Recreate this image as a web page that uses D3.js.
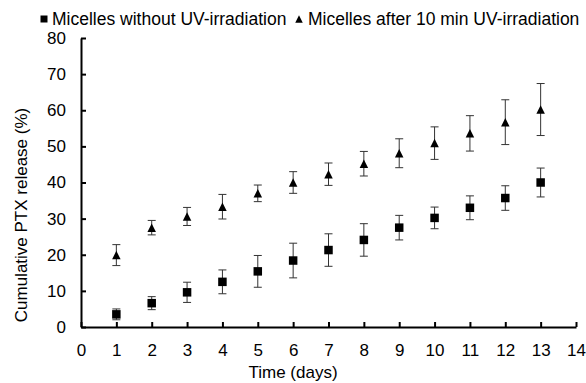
<!DOCTYPE html>
<html>
<head>
<meta charset="utf-8">
<script src="https://cdn.jsdelivr.net/npm/d3@7"></script>
<style>
  html, body { margin: 0; padding: 0; background: #fff; }
  svg { display: block; font-family: "Liberation Sans", Arial, sans-serif; }
</style>
</head>
<body>
<div class="container"></div>
<script>
// days on the x axis
var days = [1, 2, 3, 4, 5, 6, 7, 8, 9, 10, 11, 12, 13];

// micelles without UV-irradiation (squares)
var noUvMean = [3.5, 6.6, 9.6, 12.5, 15.4, 18.4, 21.3, 24.1, 27.5, 30.2, 33.0, 35.7, 40.0];
var noUvErr = [1.5, 1.8, 2.8, 3.3, 4.4, 4.8, 4.5, 4.5, 3.4, 3.0, 3.3, 3.4, 4.0];

// micelles after 10 min UV-irradiation (triangles)
var uvMean = [19.9, 27.5, 30.6, 33.3, 37.0, 40.0, 42.3, 45.2, 48.1, 50.9, 53.6, 56.7, 60.2];
var uvErr = [2.9, 2.0, 2.5, 3.4, 2.3, 3.0, 3.1, 3.4, 4.0, 4.5, 4.9, 6.2, 7.2];

var xTicks = [0, 1, 2, 3, 4, 5, 6, 7, 8, 9, 10, 11, 12, 13, 14];
var yTicks = [0, 10, 20, 30, 40, 50, 60, 70, 80];

var legendLabels = ['Micelles without UV-irradiation', 'Micelles after 10 min UV-irradiation'];
var legendSymbols = ['square', 'triangle'];

var width = 586, height = 383;

var svg = d3.select('.container').append('svg')
    .attr('width', width).attr('height', height);

var x = d3.scaleLinear().domain([0, 14]).range([81, 576]);
var y = d3.scaleLinear().domain([0, 80]).range([327, 38]);

// marker shapes, centred on their bounding box
function square(s) {
    var h = s / 2;
    return 'M' + (-h) + ',' + (-h) + 'H' + h + 'V' + h + 'H' + (-h) + 'Z';
}
function triangle(s) {
    var h = s / 2;
    return 'M0,' + (-h) + 'L' + h + ',' + h + 'L' + (-h) + ',' + h + 'Z';
}

// axes
var xAxis = svg.append('g')
    .attr('transform', 'translate(0,' + y(0) + ')')
    .call(d3.axisBottom(x).tickValues(xTicks).tickSizeInner(-5).tickSizeOuter(0).tickPadding(17));

var yAxis = svg.append('g')
    .attr('transform', 'translate(' + x(0) + ',0)')
    .call(d3.axisLeft(y).tickValues(yTicks).tickSizeInner(-5).tickSizeOuter(0).tickPadding(15));

[xAxis, yAxis].forEach(function (a) {
    a.select('.domain').attr('stroke', '#000').attr('stroke-width', 2);
    a.selectAll('.tick line').attr('stroke', '#000').attr('stroke-width', 2);
    a.selectAll('.tick text')
        .attr('fill', '#000')
        .style('font-size', '17px')
        .style('font-family', '"Liberation Sans", Arial, sans-serif');
});

// axis titles
svg.append('text')
    .attr('x', 293).attr('y', 378)
    .attr('text-anchor', 'middle')
    .style('font-size', '17px')
    .text('Time (days)');

svg.append('text')
    .attr('transform', 'translate(27,215) rotate(-90)')
    .attr('text-anchor', 'middle')
    .style('font-size', '17px')
    .text('Cumulative PTX release (%)');

// error bars and markers
function drawSeries(mean, err, shape) {
    var g = svg.append('g');
    var data = days.map(function (d, i) { return { day: d, v: mean[i], e: err[i] }; });

    var bars = g.selectAll('.err').data(data).enter().append('g')
        .attr('stroke', '#333').attr('stroke-width', 1);
    bars.append('line')
        .attr('x1', function (d) { return x(d.day); })
        .attr('x2', function (d) { return x(d.day); })
        .attr('y1', function (d) { return y(d.v + d.e); })
        .attr('y2', function (d) { return y(d.v - d.e); });
    bars.append('line')
        .attr('x1', function (d) { return x(d.day) - 4; })
        .attr('x2', function (d) { return x(d.day) + 4; })
        .attr('y1', function (d) { return y(d.v + d.e); })
        .attr('y2', function (d) { return y(d.v + d.e); });
    bars.append('line')
        .attr('x1', function (d) { return x(d.day) - 4; })
        .attr('x2', function (d) { return x(d.day) + 4; })
        .attr('y1', function (d) { return y(d.v - d.e); })
        .attr('y2', function (d) { return y(d.v - d.e); });

    g.selectAll('.pt').data(data).enter().append('path')
        .attr('d', shape)
        .attr('fill', '#000')
        .attr('transform', function (d) {
            return 'translate(' + x(d.day) + ',' + y(d.v) + ')';
        });
}

drawSeries(noUvMean, noUvErr, square(8.5));
drawSeries(uvMean, uvErr, triangle(8.5));

// legend
var legendX = [44, 299];
var lg = svg.selectAll('.legend').data(legendLabels).enter().append('g')
    .attr('transform', function (d, i) { return 'translate(' + legendX[i] + ',19)'; });

lg.append('path')
    .attr('d', function (d, i) {
        return legendSymbols[i] === 'square' ? square(7) : triangle(7.5);
    })
    .attr('fill', '#000');

lg.append('text')
    .attr('x', function (d, i) { return i === 0 ? 8 : 9; })
    .attr('y', 6)
    .style('font-size', '17.5px')
    .text(function (d) { return d; });
</script>
</body>
</html>
